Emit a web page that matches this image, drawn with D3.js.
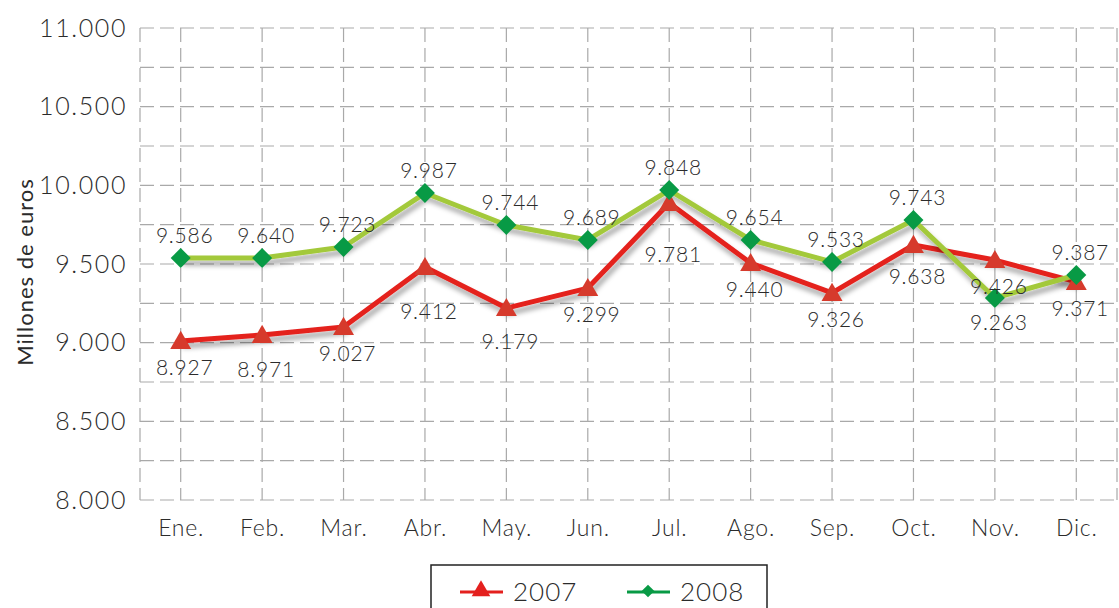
<!DOCTYPE html>
<html lang="es">
<head>
<meta charset="UTF-8">
<title>Millones de euros 2007-2008</title>
<style>
  body { margin: 0; background: #fff; }
  text { font-family: Lato, "Open Sans", sans-serif; font-weight: 300; fill: #2b2b2b; }
</style>
</head>
<body>
<div id="chart"></div>
<script src="https://d3js.org/d3.v7.min.js"></script>
<script>
var months = ["Ene.", "Feb.", "Mar.", "Abr.", "May.", "Jun.", "Jul.", "Ago.", "Sep.", "Oct.", "Nov.", "Dic."]
// plotted positions
var values2007 = [9011, 9049, 9100, 9481, 9220, 9347, 9888, 9506, 9316, 9621, 9525, 9386]
var values2008 = [9538, 9538, 9608, 9951, 9748, 9653, 9970, 9653, 9513, 9780, 9284, 9430]
// labels as printed on the chart
var labels2007 = ["8.927", "8.971", "9.027", "9.412", "9.179", "9.299", "9.781", "9.440", "9.326", "9.638", "9.426", "9.371"]
var labels2008 = ["9.586", "9.640", "9.723", "9.987", "9.744", "9.689", "9.848", "9.654", "9.533", "9.743", "9.263", "9.387"]
var yTicks = [8000, 8500, 9000, 9500, 10000, 10500, 11000]

var width = 1119, height = 608
var plotLeft = 140, plotRight = 1117, plotTop = 28, plotBottom = 500

var svg = d3.select("#chart").append("svg")
  .attr("width", width)
  .attr("height", height)

var defs = svg.append("defs")
var f = defs.append("filter").attr("id", "shadow")
  .attr("x", "-5%").attr("y", "-20%").attr("width", "110%").attr("height", "160%")
f.append("feDropShadow")
  .attr("dx", 2).attr("dy", 5).attr("stdDeviation", 2.5)
  .attr("flood-color", "#000").attr("flood-opacity", 0.35)

var x = d3.scalePoint().domain(months).range([plotLeft, plotRight]).padding(0.5)
var y = d3.scaleLinear().domain([8000, 11000]).range([plotBottom, plotTop])

var grid = svg.append("g")
  .attr("stroke", "#a9a9a9")
  .attr("stroke-width", 1.2)
  .attr("stroke-dasharray", "14,6")

grid.selectAll(".h")
  .data(d3.range(8000, 11001, 250))
  .enter().append("line")
  .attr("x1", plotLeft).attr("x2", plotRight)
  .attr("y1", d => y(d)).attr("y2", d => y(d))

grid.selectAll(".v")
  .data(months)
  .enter().append("line")
  .attr("x1", d => x(d)).attr("x2", d => x(d))
  .attr("y1", plotTop).attr("y2", plotBottom)

grid.selectAll(".b")
  .data([plotLeft, plotRight])
  .enter().append("line")
  .attr("x1", d => d).attr("x2", d => d)
  .attr("y1", plotTop).attr("y2", plotBottom)

// y axis labels
var yAxis = svg.append("g")
  .attr("transform", "translate(" + (plotLeft - 10) + ",0)")
  .call(d3.axisLeft(y).tickValues(yTicks).tickSize(0)
    .tickFormat(d => d3.format(",")(d).replace(/,/g, ".")))
yAxis.select(".domain").remove()
yAxis.selectAll("text")
  .style("font-size", "25px")
  .style("font-family", "Lato, sans-serif")
  .attr("letter-spacing", "1.6")
  .attr("fill", "#2b2b2b")

// x axis labels
var xAxis = svg.append("g")
  .attr("transform", "translate(0," + (plotBottom + 17) + ")")
  .call(d3.axisBottom(x).tickSize(0))
xAxis.select(".domain").remove()
xAxis.selectAll("text")
  .style("font-size", "23px")
  .style("font-family", "Lato, sans-serif")
  .attr("letter-spacing", "0.8")
  .attr("fill", "#2b2b2b")

svg.append("text")
  .attr("transform", "translate(33," + ((plotTop + plotBottom) / 2 + 8) + ") rotate(-90)")
  .attr("text-anchor", "middle")
  .style("font-size", "22px")
  .style("font-weight", "400")
  .attr("letter-spacing", "1")
  .text("Millones de euros")

var line = d3.line()
  .x((d, i) => x(months[i]))
  .y(d => y(d))

var series = [
  { values: values2007, labels: labels2007, line: "#e4201e", mark: "#d63a2c", kind: "tri" },
  { values: values2008, labels: labels2008, line: "#a3c93a", mark: "#089a45", kind: "dia" }
]

series.forEach(function (s) {
  svg.append("path")
    .datum(s.values)
    .attr("d", line)
    .attr("fill", "none")
    .attr("stroke", s.line)
    .attr("stroke-width", 5)
    .attr("stroke-linejoin", "round")
    .attr("filter", "url(#shadow)")
})

var tri = d3.symbol().type(d3.symbolTriangle).size(190)
var dia = d3.symbol().type(d3.symbolSquare).size(200)

series.forEach(function (s) {
  svg.append("g").selectAll("path")
    .data(s.values)
    .enter().append("path")
    .attr("d", s.kind == "tri" ? tri : dia)
    .attr("fill", s.mark)
    .attr("transform", function (d, i) {
      var t = "translate(" + x(months[i]) + "," + (y(d) + (s.kind == "tri" ? 2 : 0)) + ")"
      return s.kind == "tri" ? t : t + " rotate(45)"
    })
})

// value labels: 2008 above, 2007 below (with a few moved to avoid overlaps)
var below2008 = { "Nov.": 25 }
var shift2007 = { "Abr.": 45, "Jul.": 52, "Feb.": 35, "May.": 34, "Oct.": 32 }

svg.append("g").selectAll("text")
  .data(labels2008)
  .enter().append("text")
  .attr("x", (d, i) => x(months[i]) + 4)
  .attr("y", (d, i) => y(values2008[i]) + (below2008[months[i]] || -22))
  .attr("dy", "0.35em")
  .attr("text-anchor", "middle")
  .style("font-size", "21px")
  .attr("letter-spacing", "0.8")
  .text(d => d)

svg.append("g").selectAll("text")
  .data(labels2007)
  .enter().append("text")
  .attr("x", (d, i) => x(months[i]) + 4)
  .attr("y", (d, i) => y(values2007[i]) + (shift2007[months[i]] || 27))
  .attr("dy", "0.35em")
  .attr("text-anchor", "middle")
  .style("font-size", "21px")
  .attr("letter-spacing", "0.8")
  .text(d => d)

// legend
var lg = svg.append("g")
lg.append("rect")
  .attr("x", 431).attr("y", 565)
  .attr("width", 336).attr("height", 60)
  .attr("fill", "#fff")
  .attr("stroke", "#222")
  .attr("stroke-width", 1.5)

var legendItems = [
  { name: "2007", color: "#e4201e", sym: tri, rot: "" },
  { name: "2008", color: "#089a45", sym: dia, rot: " rotate(45)" }
]
legendItems.forEach(function (d, i) {
  var x0 = 460 + i * 167
  lg.append("line")
    .attr("x1", x0).attr("x2", x0 + 43)
    .attr("y1", 592).attr("y2", 592)
    .attr("stroke", d.color).attr("stroke-width", 3)
  lg.append("path")
    .attr("d", d.sym.size(i == 0 ? 150 : 80)())
    .attr("fill", d.color)
    .attr("transform", "translate(" + (x0 + 21) + ",591)" + d.rot)
  lg.append("text")
    .attr("x", x0 + 53).attr("y", 592)
    .attr("dy", "0.36em")
    .style("font-size", "26px")
    .attr("letter-spacing", "1")
    .text(d.name)
})
</script>
</body>
</html>
